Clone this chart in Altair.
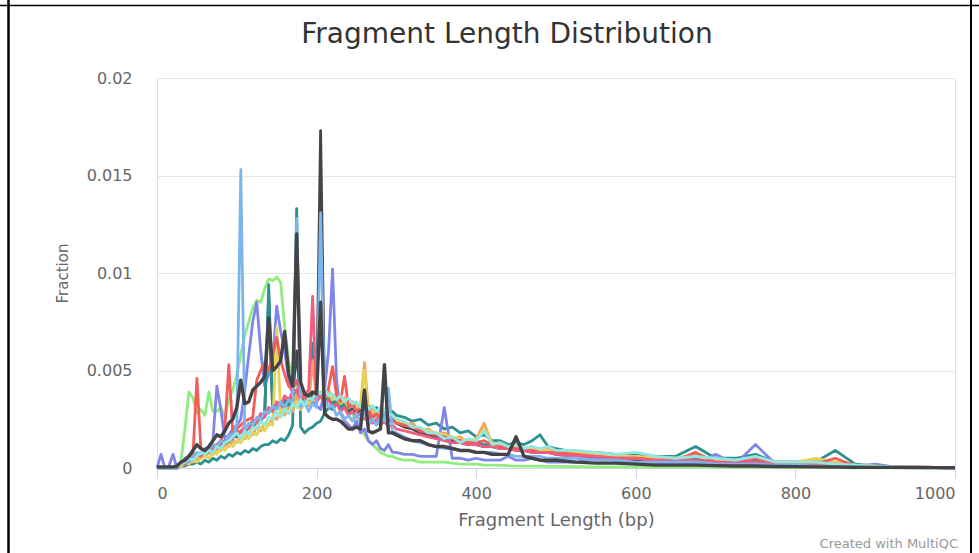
import altair as alt
import pandas as pd

# Fragment length grid (bp)
X_BP = [0, 5, 10, 15, 20, 25, 30, 35, 40, 45,
        50, 55, 60, 65, 70, 75, 80, 85, 90, 95,
        100, 105, 110, 115, 120, 125, 130, 135, 140, 145,
        150, 155, 160, 165, 170, 175, 180, 185, 190, 195,
        200, 205, 210, 215, 220, 225, 230, 235, 240, 245,
        250, 255, 260, 265, 270, 275, 280, 285, 290, 295,
        300,
        310, 320, 330, 340, 350, 360, 370, 380, 390, 400,
        410, 420, 430, 440, 450, 460, 470, 480, 490, 500,
        525, 550, 575, 600, 625, 650, 675, 700, 725, 750,
        775, 800, 825, 850, 875, 900, 925, 950, 975, 1000]

# Fractions in units of 1e-4
GREEN = [0, 0, 0, 0, 0, 0, 3, 20, 39, 36,
         28, 30, 27, 39, 29, 29, 31, 26, 35, 40,
         48, 58, 68, 75, 82, 86, 85, 92, 97, 96,
         98, 95, 72, 55, 47, 42, 40, 38, 37, 36,
         36, 36, 35, 36, 35, 35, 34, 33, 32, 28,
         22, 19, 17, 14, 12, 10, 8, 7, 6, 6,
         5,
         4, 4, 3, 3, 3, 3, 2.5, 2, 2, 2, 1.5, 1.5, 1.5, 1.2, 1, 1, 1, 1, 0.8, 0.8,
         0.7, 0.6, 0.6, 0.5, 0.5, 0.4, 0.4, 0.4, 0.3, 0.3, 0.3, 0.2, 0.2, 0.2, 0.1, 0.1, 0.1, 0.1, 0.1, 0.1]

DARK_A = [0, 0, 0, 0, 0, 1, 2, 4, 3, 6,
          5, 8, 7, 10, 9, 12, 11, 14, 13, 17,
          16, 19, 18, 22, 21, 25, 24, 28, 88, 29,
          33, 30, 35, 32, 37, 60, 34, 37, 33, 38,
          35, 173, 36, 38, 33, 35, 31, 33, 29, 31,
          28, 30, 29, 28, 26, 27, 25, 28, 24, 25,
          23,
          21, 20, 18, 17, 16, 15, 14, 13, 12, 12, 11, 11, 10, 10, 9, 9, 8, 8, 8, 7,
          6, 5, 5, 4, 4, 3, 3, 3, 2, 2, 2, 1.5, 1.5, 1, 0.8, 0.5, 0.4, 0.3, 0.2, 0.1]

TEAL_1 = [0, 0, 0, 0, 0, 0, 1, 1, 2, 2,
          3, 2, 4, 3, 5, 4, 6, 5, 7, 6,
          8, 7, 9, 8, 10, 9, 11, 12, 12, 14,
          13, 15, 14, 17, 22, 133, 21, 18, 20, 21,
          23, 24, 28, 31, 30, 33, 31, 34, 31, 33,
          30, 32, 31, 32, 29, 31, 29, 30, 28, 29,
          27,
          26, 24, 25, 22, 23, 20, 21, 18, 19, 16, 17, 14, 14, 12, 13, 12, 14, 17, 11, 10,
          8, 8, 7, 7, 6, 6, 11, 5, 5, 7, 3, 3, 3, 9, 2, 1, 0.8, 0.5, 0.3, 0.2]

PURPLE = [0, 7, 0, 1, 7, 0, 2, 5, 6, 4,
          5, 8, 6, 9, 14, 42, 30, 15, 17, 20,
          22, 25, 40, 58, 75, 85, 60, 42, 48, 55,
          83, 70, 60, 45, 38, 40, 35, 34, 33, 34,
          32, 30, 40, 60, 102, 45, 28, 24, 22, 20,
          24, 18, 20, 14, 12, 14, 10, 9, 12, 8,
          8,
          7, 7, 6, 6, 6, 31, 5, 5, 4, 5, 4, 4, 4, 6, 4, 4, 5, 4, 3, 3,
          3, 5, 4, 6, 2, 2, 2, 7, 2, 12, 2, 2, 1, 1, 1, 2, 0.5, 0.3, 0.2, 0.1]

TEAL_2 = [0, 0, 0, 0, 0, 1, 2, 4, 3, 6,
          5, 8, 7, 10, 9, 12, 11, 14, 13, 16,
          16, 19, 18, 21, 21, 24, 24, 28, 94, 29,
          33, 30, 35, 32, 37, 40, 33, 37, 34, 64,
          35, 38, 34, 37, 33, 35, 31, 33, 30, 32,
          29, 31, 30, 29, 26, 28, 25, 27, 24, 25,
          23,
          22, 21, 19, 18, 17, 16, 15, 14, 13, 13, 12, 12, 11, 11, 10, 10, 9, 9, 8, 8,
          7, 7, 6, 6, 5, 5, 5, 4, 4, 4, 3, 3, 3, 2, 1.5, 1, 0.7, 0.5, 0.3, 0.2]

ORANGE = [0, 0, 0, 0, 0, 1, 1, 2, 4, 3,
          5, 7, 6, 8, 7, 10, 9, 12, 11, 14,
          13, 16, 15, 18, 17, 21, 19, 23, 22, 26,
          25, 29, 27, 31, 29, 38, 30, 34, 32, 55,
          35, 39, 37, 40, 36, 38, 34, 36, 32, 34,
          33, 31, 54, 29, 30, 27, 29, 28, 27, 25,
          25,
          22, 23, 19, 20, 17, 18, 15, 16, 13, 15, 23, 12, 13, 11, 12, 10, 11, 9, 10, 8,
          8, 7, 6, 6, 5, 5, 7, 4, 4, 5, 3, 3, 4, 3, 1.5, 1, 0.8, 0.5, 0.3, 0.2]

YELLOW = [0, 0, 0, 0, 0, 1, 1, 3, 2, 4,
          3, 5, 6, 5, 8, 7, 10, 9, 12, 11,
          14, 13, 16, 15, 18, 17, 21, 19, 23, 22,
          72, 28, 31, 28, 32, 34, 30, 34, 33, 36,
          34, 38, 36, 38, 35, 36, 33, 35, 31, 32,
          30, 32, 50, 28, 29, 27, 28, 26, 27, 24,
          24,
          23, 21, 20, 19, 18, 17, 16, 15, 14, 14, 20, 13, 12, 11, 11, 10, 10, 9, 9, 8,
          8, 7, 6, 6, 5, 5, 6, 4, 4, 5, 3, 3, 5, 3, 1.5, 1, 0.8, 0.5, 0.3, 0.2]

RED = [0, 0, 0, 0, 0, 1, 2, 3, 5, 6,
       46, 10, 8, 9, 11, 12, 14, 20, 53, 18,
       20, 22, 24, 25, 26, 45, 50, 54, 50, 58,
       67, 55, 48, 42, 40, 45, 38, 36, 35, 36,
       35, 38, 36, 41, 52, 37, 34, 47, 31, 33,
       29, 31, 28, 30, 26, 28, 25, 27, 24, 25,
       23,
       22, 21, 19, 18, 17, 16, 15, 14, 13, 13, 14, 12, 11, 10, 10, 9, 9, 8, 8, 8,
       7, 6, 5, 5, 4, 4, 8, 3, 3, 5, 2, 2, 2, 5, 1, 1, 0.6, 0.4, 0.3, 0.2]

PINK = [0, 0, 0, 0, 0, 1, 3, 2, 5, 4,
        7, 6, 9, 8, 11, 10, 13, 12, 16, 15,
        19, 18, 22, 20, 25, 23, 28, 26, 31, 29,
        34, 32, 37, 35, 39, 40, 35, 38, 40, 88,
        34, 37, 33, 35, 31, 33, 29, 31, 27, 29,
        26, 28, 25, 27, 23, 25, 22, 24, 21, 22,
        20,
        19, 18, 17, 16, 15, 14, 13, 13, 12, 12, 11, 11, 10, 10, 9, 9, 8, 8, 8, 7,
        6, 6, 5, 5, 4, 4, 4, 3, 3, 3, 2, 2, 2, 2, 1, 1, 0.6, 0.4, 0.3, 0.2]

LIGHT_BLUE = [0, 0, 0, 0, 0, 1, 2, 4, 3, 6,
              8, 7, 10, 9, 12, 11, 14, 13, 17, 16,
              22, 153, 19, 23, 22, 26, 25, 29, 28, 32,
              30, 34, 31, 35, 33, 128, 31, 34, 29, 33,
              31, 131, 35, 31, 32, 27, 29, 25, 27, 24,
              28, 23, 29, 22, 25, 22, 26, 24, 41, 19,
              18,
              16, 14, 13, 12, 11, 10, 10, 9, 9, 8, 8, 8, 7, 7, 6, 6, 6, 6, 5, 5,
              5, 4, 4, 3, 3, 3, 3, 2, 2, 2, 1.5, 1.5, 1, 1, 0.5, 0.5, 0.3, 0.2, 0.1, 0.1]

CYAN = [0, 0, 0, 0, 0, 1, 2, 3, 5, 4,
        6, 8, 7, 9, 8, 11, 10, 13, 14, 16,
        18, 15, 19, 17, 21, 20, 24, 22, 26, 25,
        29, 26, 30, 28, 33, 31, 35, 32, 36, 35,
        40, 38, 41, 37, 38, 35, 37, 34, 36, 33,
        34, 31, 34, 30, 32, 29, 31, 30, 28, 27,
        25,
        24, 21, 21, 18, 18, 15, 16, 13, 15, 14, 19, 12, 13, 11, 12, 10, 11, 10, 11, 9,
        9, 8, 7, 8, 6, 5, 6, 5, 4, 6, 3, 3, 3, 2, 1.5, 1, 0.7, 0.5, 0.3, 0.2]

DARK_MAIN = [0.5, 0.5, 0.5, 0.5, 0.5, 1, 3, 4, 6, 9,
             12, 10, 9, 11, 14, 17, 16, 19, 23, 25,
             31, 45, 33, 34, 40, 42, 44, 47, 77, 50,
             52, 55, 70, 48, 42, 120, 44, 38, 37, 39,
             38, 85, 28, 26, 25, 25, 24, 22, 20, 20,
             21, 20, 40, 19, 18, 19, 20, 53, 18, 18,
             17,
             15, 14, 14, 12, 11, 11, 10, 9, 9, 8, 8, 7, 7, 7, 16, 6, 5, 4, 4, 4,
             3, 2.5, 2.5, 2, 1.5, 1.5, 1.5, 1.2, 1, 1, 0.8, 0.7, 0.6, 0.5, 0.4, 0.3, 0.3, 0.2, 0.2, 0.1]

# drawing order: first is at the bottom
SERIES = [
    ("green", "#90ed7d", 2.8, GREEN),
    ("darkA", "#434348", 2.8, DARK_A),
    ("teal1", "#2b908f", 2.8, TEAL_1),
    ("purple", "#8085e9", 2.8, PURPLE),
    ("teal2", "#2b908f", 2.8, TEAL_2),
    ("orange", "#f7a35c", 2.8, ORANGE),
    ("yellow", "#e4d354", 2.8, YELLOW),
    ("red", "#f45b5b", 2.8, RED),
    ("pink", "#f15c80", 2.8, PINK),
    ("lightblue", "#7cb5ec", 2.8, LIGHT_BLUE),
    ("cyan", "#91e8e1", 2.8, CYAN),
    ("darkmain", "#434348", 3.4, DARK_MAIN),
]

X_TICKS = [0, 200, 400, 600, 800, 1000]
Y_TICKS = [0, 0.005, 0.01, 0.015, 0.02]

FONT = "DejaVu Sans"
W, H = 798, 390
PAD_L, PAD_T, PAD_R, PAD_B = 157, 78, 24, 85

xs = alt.Scale(domain=[0, 1000], nice=False, zero=False)
ys = alt.Scale(domain=[0, 0.02], nice=False)

x_axis = alt.Axis(values=X_TICKS, format="d", grid=False,
                  domainColor="#ccd6eb", tickColor="#ccd6eb", tickSize=10,
                  labelFontSize=16, labelColor="#666666", labelFont=FONT,
                  labelPadding=7, title="Fragment Length (bp)", titleFontSize=18,
                  titleColor="#666666", titleFont=FONT, titleFontWeight="normal",
                  titlePadding=10)
y_axis = alt.Axis(values=Y_TICKS, format="~g", grid=True, gridColor="#e6e6e6",
                  domain=False, ticks=False, labelPadding=25, labelFontSize=16,
                  labelColor="#666666", labelFont=FONT, title="Fraction",
                  titleFontSize=15, titleFontWeight="normal", titleColor="#666666",
                  titleFont=FONT, titlePadding=16)

layers = []
for name, color, width, vals in SERIES:
    df = pd.DataFrame({"bp": X_BP, "frac": [v * 1e-4 for v in vals], "sample": name})
    layers.append(
        alt.Chart(df).mark_line(color=color, strokeWidth=width, strokeJoin="round").encode(
            x=alt.X("bp:Q", scale=xs, axis=x_axis),
            y=alt.Y("frac:Q", scale=ys, axis=y_axis),
        )
    )

dummy = pd.DataFrame({"k": [0]})
frame_left = alt.Chart(dummy).mark_rule(color="black", strokeWidth=2.5).encode(
    x=alt.value(8.5 - PAD_L), y=alt.value(-PAD_T), y2=alt.value(553 - PAD_T))
frame_right = alt.Chart(dummy).mark_rule(color="black", strokeWidth=2).encode(
    x=alt.value(971 - PAD_L), y=alt.value(-PAD_T), y2=alt.value(553 - PAD_T))
frame_top = alt.Chart(dummy).mark_rule(color="black", strokeWidth=1.6).encode(
    x=alt.value(-PAD_L), x2=alt.value(979 - PAD_L), y=alt.value(5.5 - PAD_T))
title = alt.Chart(dummy).mark_text(text="Fragment Length Distribution", align="center",
                                   baseline="alphabetic", fontSize=28, color="#333333",
                                   font=FONT).encode(
    x=alt.value(507 - PAD_L), y=alt.value(43 - PAD_T))
credit = alt.Chart(dummy).mark_text(text="Created with MultiQC", align="right",
                                    baseline="alphabetic", fontSize=13, color="#999999",
                                    font=FONT).encode(
    x=alt.value(958 - PAD_L), y=alt.value(548 - PAD_T))

chart = alt.layer(*layers, frame_left, frame_right, frame_top, title, credit).properties(
    width=W, height=H,
    autosize=alt.AutoSizeParams(type="none"),
    padding={"left": PAD_L, "top": PAD_T, "right": PAD_R, "bottom": PAD_B},
).configure_view(stroke=None).configure(background="white")

chart.save("out.html", embed_options={"renderer": "svg", "actions": False})
